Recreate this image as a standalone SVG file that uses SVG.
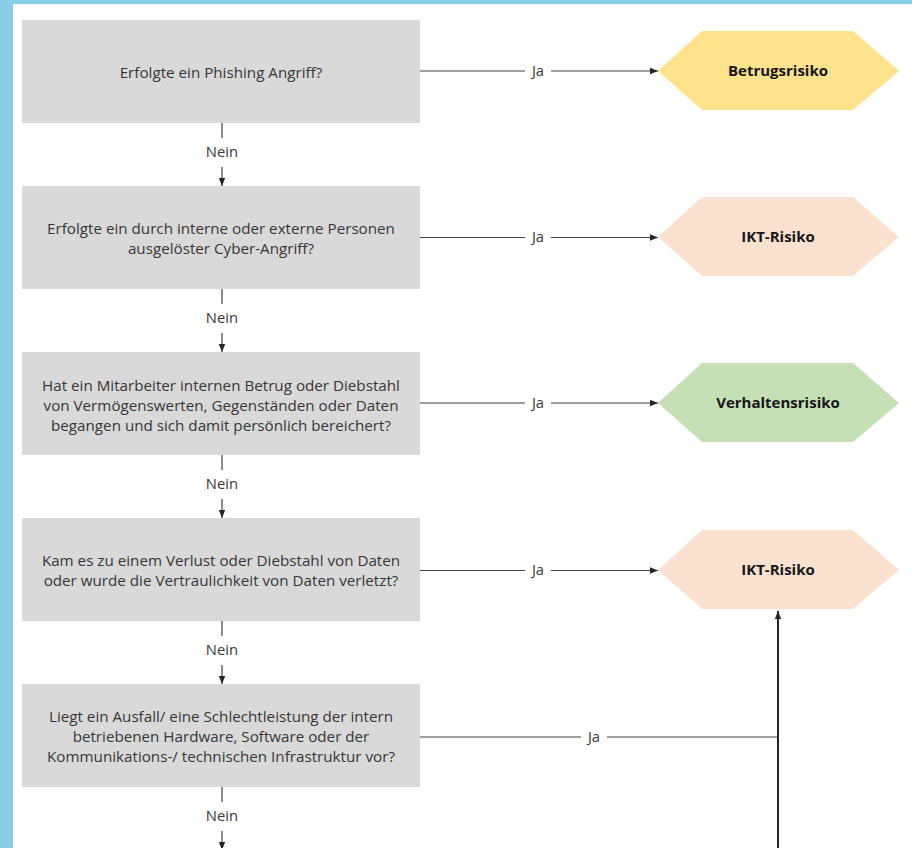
<svg xmlns="http://www.w3.org/2000/svg" width="912" height="848" viewBox="0 0 912 848">
<style>
.q{fill:#d9d9d9}
.qt{font-family:"Open Sans","Noto Sans",sans-serif;font-size:15.2px;fill:#363636;text-anchor:middle}
.lb{font-family:"Open Sans","Noto Sans",sans-serif;font-size:14.8px;fill:#3a3a3a;text-anchor:middle}
.ht{font-family:"Open Sans","Noto Sans",sans-serif;font-size:15px;font-weight:bold;fill:#161616;text-anchor:middle}
.ln{stroke:#404040;stroke-width:1.2;fill:none}
.lk{stroke:#262626;stroke-width:2;fill:none}
</style>
<defs>
<marker id="ah" viewBox="0 0 8 8" refX="8" refY="4" markerWidth="8" markerHeight="8" markerUnits="userSpaceOnUse" orient="auto">
<path d="M0,0.8 L8,4 L0,7.2 Z" fill="#262626"/>
</marker>
</defs>
<rect x="0" y="0" width="912" height="848" fill="#ffffff"/>
<rect x="0" y="0" width="912" height="4" fill="#86cde8"/>
<rect x="0" y="0" width="13" height="848" fill="#86cde8"/>

<g id="q1"><rect class="q" x="22" y="20" width="398" height="103"/>
<text class="qt" x="221" y="78">Erfolgte ein Phishing Angriff?</text></g>
<g id="q2"><rect class="q" x="22" y="186" width="398" height="103"/>
<text class="qt" x="221" y="234">Erfolgte ein durch interne oder externe Personen</text>
<text class="qt" x="221" y="254">ausgelöster Cyber-Angriff?</text></g>
<g id="q3"><rect class="q" x="22" y="352" width="398" height="103"/>
<text class="qt" x="221" y="390.5">Hat ein Mitarbeiter internen Betrug oder Diebstahl</text>
<text class="qt" x="221" y="410.5">von Vermögenswerten, Gegenständen oder Daten</text>
<text class="qt" x="221" y="430.5">begangen und sich damit persönlich bereichert?</text></g>
<g id="q4"><rect class="q" x="22" y="518" width="398" height="103"/>
<text class="qt" x="221" y="566">Kam es zu einem Verlust oder Diebstahl von Daten</text>
<text class="qt" x="221" y="586">oder wurde die Vertraulichkeit von Daten verletzt?</text></g>
<g id="q5"><rect class="q" x="22" y="684" width="398" height="103"/>
<text class="qt" x="221" y="722">Liegt ein Ausfall/ eine Schlechtleistung der intern</text>
<text class="qt" x="221" y="742">betriebenen Hardware, Software oder der</text>
<text class="qt" x="221" y="762">Kommunikations-/ technischen Infrastruktur vor?</text></g>

<g id="r1"><polygon points="658,71 702,31 853,31 899,71 853,110 702,110" fill="#fee28c"/>
<text class="ht" x="778" y="76">Betrugsrisiko</text></g>
<g id="r2"><polygon points="658,237 702,197 853,197 899,237 853,276 702,276" fill="#fbe1d0"/>
<text class="ht" x="778" y="242">IKT-Risiko</text></g>
<g id="r3"><polygon points="658,403 702,363 853,363 899,403 853,442 702,442" fill="#c6e0b5"/>
<text class="ht" x="778" y="408">Verhaltensrisiko</text></g>
<g id="r4"><polygon points="658,570 702,530 853,530 899,570 853,609 702,609" fill="#fbe1d0"/>
<text class="ht" x="778" y="575">IKT-Risiko</text></g>

<g id="connectors">
<path class="ln" d="M420,71 H525 M551,71 H658" marker-end="url(#ah)"/>
<path class="ln" d="M420,237.5 H525 M551,237.5 H658" marker-end="url(#ah)"/>
<path class="ln" d="M420,403 H525 M551,403 H658" marker-end="url(#ah)"/>
<path class="ln" d="M420,570.5 H525 M551,570.5 H658" marker-end="url(#ah)"/>
<path class="ln" d="M420,737 H581 M607,737 H778"/>
<path class="lk" d="M778,848 V611" marker-end="url(#ah)"/>
<text class="lb" x="538" y="76">Ja</text>
<text class="lb" x="538" y="242">Ja</text>
<text class="lb" x="538" y="408">Ja</text>
<text class="lb" x="538" y="575">Ja</text>
<text class="lb" x="594" y="742">Ja</text>
<path class="ln" d="M222,123 V138 M222,167 V186" marker-end="url(#ah)"/>
<path class="ln" d="M222,289 V304 M222,333 V352" marker-end="url(#ah)"/>
<path class="ln" d="M222,455 V470 M222,499 V518" marker-end="url(#ah)"/>
<path class="ln" d="M222,621 V636 M222,665 V684" marker-end="url(#ah)"/>
<path class="ln" d="M222,787 V802 M222,831 V850" marker-end="url(#ah)"/>
<text class="lb" x="222" y="157">Nein</text>
<text class="lb" x="222" y="323">Nein</text>
<text class="lb" x="222" y="489">Nein</text>
<text class="lb" x="222" y="655">Nein</text>
<text class="lb" x="222" y="821">Nein</text>
</g>
</svg>
